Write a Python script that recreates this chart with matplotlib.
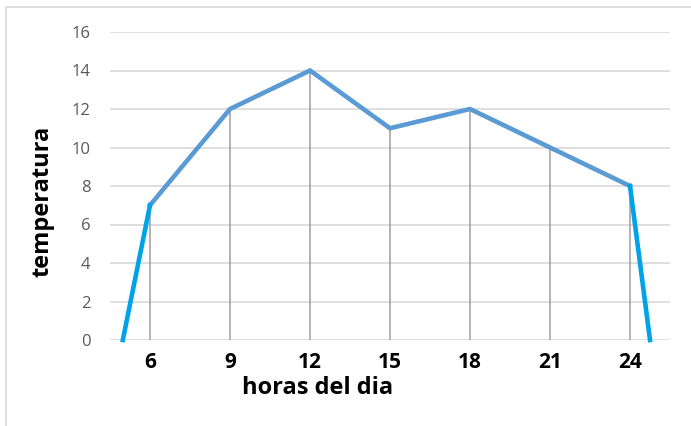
import matplotlib.pyplot as plt
from matplotlib.patches import Rectangle

# data
horas = ['6', '9', '12', '15', '18', '21', '24']
temperatura = [7, 12, 14, 11, 12, 10, 8]

# hand drawn extensions down to zero (category-index units)
ext_left_x = [-0.34, 0]
ext_left_y = [0, 7]
ext_right_x = [6, 6.25]
ext_right_y = [8, 0]

FONT = 'Open Sans'

fig = plt.figure(figsize=(6.91, 4.26), dpi=100)
fig.patch.set_facecolor('white')

# light frame around the chart (left and top edges visible)
fig.add_artist(Rectangle((6 / 691, -0.1), 1.2, 1 - 7 / 426 + 0.1,
                         transform=fig.transFigure, fill=False,
                         edgecolor='#D9D9D9', linewidth=1.2))

ax = fig.add_axes([110 / 691, 1 - 340 / 426, 560 / 691, 308 / 426])
x = list(range(len(horas)))

ax.set_xlim(-0.5, len(horas) - 0.5)
ax.set_ylim(0, 16)
ax.set_yticks(range(0, 17, 2))
ax.yaxis.grid(True, color='#D9D9D9', linewidth=1.2)
ax.set_axisbelow(True)
for s in ax.spines.values():
    s.set_visible(False)

# drop lines
ax.vlines(x, 0, temperatura, color='#A6A6A6', linewidth=1.2, zorder=2)

ax.plot(x, temperatura, color='#5B9BD5', linewidth=3.3, solid_joinstyle='miter', zorder=3)
ax.plot(ext_left_x, ext_left_y, color='#00A2E8', linewidth=3.3, zorder=4, clip_on=False)
ax.plot(ext_right_x, ext_right_y, color='#00A2E8', linewidth=3.3, zorder=4, clip_on=False)

ax.set_xticks(x)
ax.set_xticklabels(horas, fontsize=15, fontweight='bold', family=FONT)
ax.tick_params(axis='x', length=0, pad=9)
ax.tick_params(axis='y', length=0, pad=14, labelcolor='#595959', labelsize=12)
for lbl in ax.get_yticklabels():
    lbl.set_family(FONT)

ax.set_xlabel('horas del dia', fontsize=17, fontweight='bold', family=FONT, va='center')
ax.xaxis.set_label_coords(0.371, -0.156)
ax.set_ylabel('temperatura', fontsize=17, fontweight='bold', family=FONT, va='center')
ax.yaxis.set_label_coords(-0.121, 0.451)

fig.savefig('out.png', dpi=100)
